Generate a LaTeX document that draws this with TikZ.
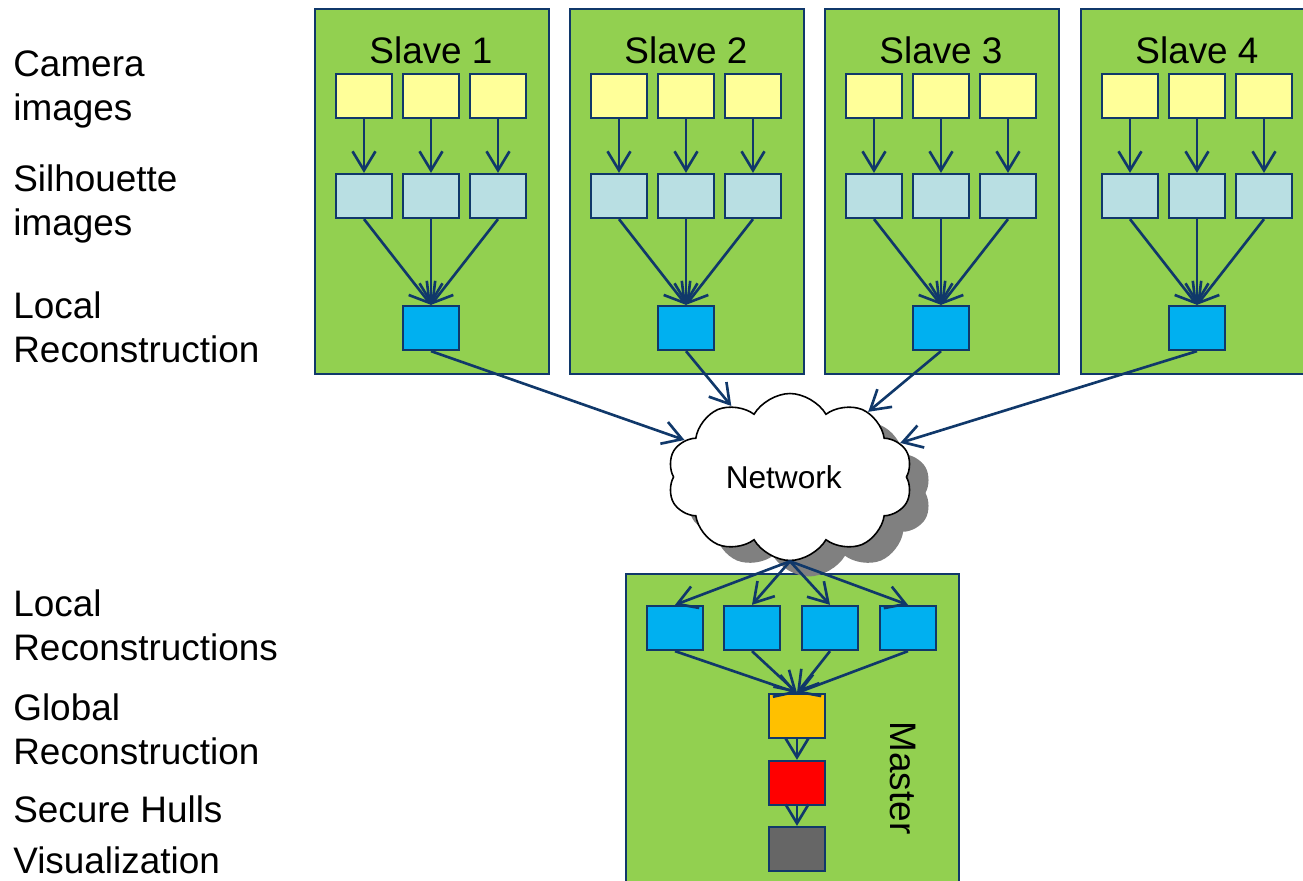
\documentclass[tikz,border=0pt]{standalone}
\usepackage{fontspec}
\setmainfont{Liberation Sans}
\usetikzlibrary{arrows.meta,shapes.symbols,shadows}

\definecolor{panelgreen}{HTML}{92D050}
\definecolor{linkblue}{HTML}{10386A}
\definecolor{camyellow}{HTML}{FFFF99}
\definecolor{silblue}{HTML}{B9DFE3}
\definecolor{recblue}{HTML}{00B0F0}
\definecolor{globorange}{HTML}{FFC000}
\definecolor{hullred}{HTML}{FF0000}
\definecolor{visgray}{HTML}{666666}

\begin{document}
\begin{tikzpicture}[x=0.02cm,y=-0.02cm,
    panel/.style={draw=linkblue,line width=1.3pt,fill=panelgreen,anchor=north west,inner sep=0pt},
    smallbox/.style={draw=linkblue,line width=1.3pt,minimum width=1.12cm,minimum height=0.88cm,inner sep=0pt},
    flow/.style={draw=linkblue,line width=1.5pt,-{Straight Barb[length=3.8mm,width=4.6mm]}},
    bigtext/.style={font=\fontsize{21}{25.5}\selectfont,inner sep=0pt},
    sidelabel/.style={bigtext,align=left,anchor=north west}]
    \useasboundingbox (0,0) rectangle (1303,881);
    \clip (0,0) rectangle (1303,881);

    % slaves
    \foreach \i/\x in {1/314,2/569,3/824,4/1080} {
        \node[panel,minimum width=4.68cm,minimum height=7.3cm] (slave\i) at (\x,8) {};
        \node[bigtext] (title\i) at (\x+117,50) {Slave \i};
        \foreach \j/\dx in {1/50,2/117,3/184} {
            \node[smallbox,fill=camyellow] (cam\i\j) at (\x+\dx,96) {};
            \node[smallbox,fill=silblue] (sil\i\j) at (\x+\dx,196) {};
            \draw[flow] (cam\i\j) -- (sil\i\j);
        }
        \node[smallbox,fill=recblue] (loc\i) at (\x+117,328) {};
        \foreach \j in {1,2,3}
            \draw[flow] (sil\i\j.south) -- (loc\i.north);
    }

    % master
    \node[panel,minimum width=6.66cm,minimum height=6.8cm] (master) at (625,573) {};
    \node[bigtext,rotate=-90] (mastertitle) at (903,778) {Master};
    \foreach \k/\x in {1/675,2/752,3/830,4/908}
        \node[smallbox,fill=recblue] (rec\k) at (\x,628) {};
    \node[smallbox,fill=globorange] (glob) at (797,716) {};
    \node[smallbox,fill=hullred] (hull) at (797,783) {};
    \node[smallbox,fill=visgray] (vis) at (797,849) {};

    % network
    \node[cloud,cloud puffs=10,cloud puff arc=120,cloud ignores aspect,
          minimum width=4.9cm,minimum height=3.34cm,draw=black,line width=0.9pt,fill=white,
          drop shadow={shadow xshift=0.38cm,shadow yshift=-0.32cm,fill=black!50,opacity=1},
          text depth=0pt,font=\fontsize{18}{22}\selectfont] (net) at (790,477) {\hspace*{-0.25cm}Network};

    \foreach \i in {1,...,4}
        \draw[flow] (loc\i.south) -- (net);
    \foreach \k in {1,...,4} {
        \draw[flow] (net.south) -- (rec\k.north);
        \draw[flow] (rec\k.south) -- (glob.north);
    }
    \draw[flow] (glob) -- (hull);
    \draw[flow] (hull) -- (vis);

    % labels on the left
    \node[sidelabel] (lcam) at (13,50) {Camera\\images};
    \node[sidelabel] (lsil) at (13,164) {Silhouette\\images};
    \node[sidelabel] (lloc) at (13,291) {Local\\Reconstruction};
    \node[sidelabel] (lrecs) at (13,589) {Local\\Reconstructions};
    \node[sidelabel] (lglob) at (13,693) {Global\\Reconstruction};
    \node[sidelabel] (lhull) at (13,795) {Secure Hulls};
    \node[sidelabel] (lvis) at (13,846) {Visualization};
\end{tikzpicture}
\end{document}
